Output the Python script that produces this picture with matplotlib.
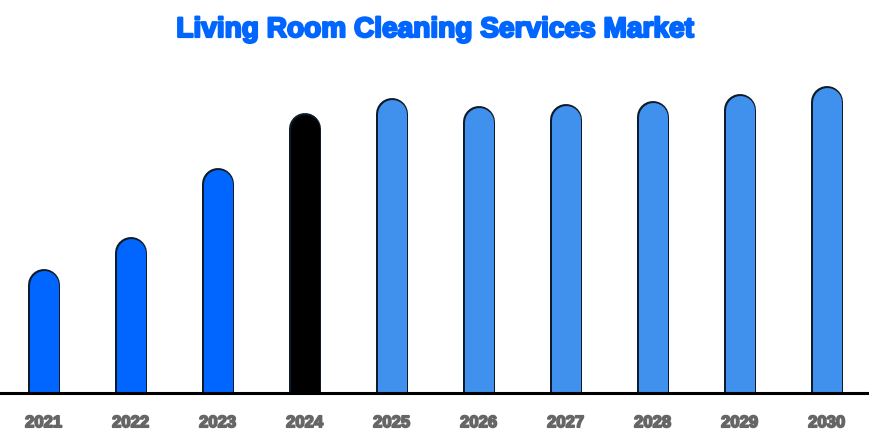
import matplotlib
matplotlib.use("Agg")
import matplotlib.pyplot as plt
import matplotlib.patheffects as pe
from matplotlib.transforms import ScaledTranslation

# market values (arbitrary units)
years = ['2021', '2022', '2023', '2024', '2025', '2026', '2027', '2028', '2029', '2030']
values = [12.3, 15.5, 22.4, 27.9, 29.4, 28.6, 28.8, 29.1, 29.8, 30.6]
colors = ['#0066ff', '#0066ff', '#0066ff', '#000000',
          '#4090ee', '#4090ee', '#4090ee', '#4090ee', '#4090ee', '#4090ee']

plt.rcParams['font.family'] = ['Liberation Sans', 'DejaVu Sans']

fig = plt.figure(figsize=(8.7, 4.35), dpi=100)
ax = fig.add_axes([0, 41 / 435, 1, (394 - 60) / 435])

bar_px = 30  # bar width in pixels
radius_in = bar_px / 2 / 100
shift = ax.transData + ScaledTranslation(0, -radius_in, fig.dpi_scale_trans)

for i, (v, c) in enumerate(zip(values, colors)):
    # outline, then fill; round cap gives the rounded top, bottom gets clipped
    ax.plot([i, i], [-5, v], color='#0d1b2a', lw=(bar_px + 2) * 0.72,
            solid_capstyle='round', transform=shift, zorder=2)
    ax.plot([i, i], [-5, v], color=c, lw=(bar_px - 1) * 0.72,
            solid_capstyle='round', transform=shift, zorder=3)

ax.set_xlim(-0.5, 9.5)
ax.set_ylim(0, 33.4)
ax.set_xticks(range(len(years)))
ax.set_xticklabels(years, fontsize=12, fontweight='bold', color='#666666')
for lab in ax.get_xticklabels():
    lab.set_path_effects([pe.withStroke(linewidth=1.2, foreground='#666666')])
ax.tick_params(axis='x', length=0, pad=16)
ax.set_yticks([])
for s in ['top', 'left', 'right']:
    ax.spines[s].set_visible(False)
ax.spines['bottom'].set_linewidth(2.2)
ax.spines['bottom'].set_zorder(5)

title = fig.text(0.5, 1 - 31 / 435, 'Living Room Cleaning Services Market', ha='center', va='center',
                 fontsize=20.2, fontweight='bold', color='#0066ff')
title.set_path_effects([pe.withStroke(linewidth=1.6, foreground='#0066ff')])

fig.savefig('out.png', dpi=100)
